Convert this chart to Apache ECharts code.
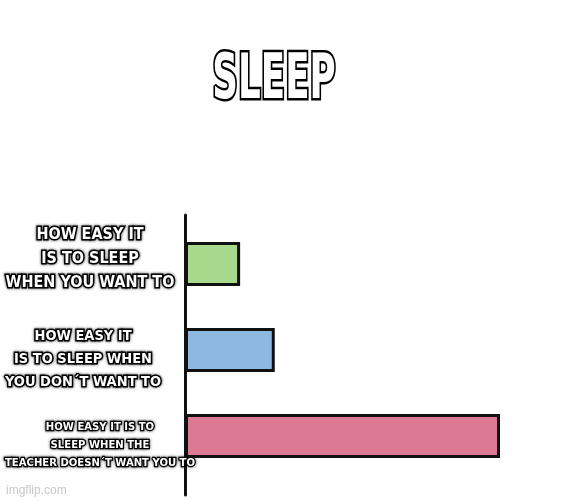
<!DOCTYPE html>
<html>
<head>
<meta charset="utf-8">
<script src="https://cdn.jsdelivr.net/npm/echarts@6/dist/echarts.min.js"></script>
<style>html,body{margin:0;padding:0;background:#fff}#c{width:564px;height:500px}</style>
</head>
<body>
<div id="c"></div>
<script>
const titleText = 'SLEEP';
const categories = [
  'HOW EASY IT\nIS TO SLEEP\nWHEN YOU WANT TO',
  'HOW EASY IT\nIS TO SLEEP WHEN\nYOU DON´T WANT TO',
  'HOW EASY IT IS TO\nSLEEP WHEN THE\nTEACHER DOESN´T WANT YOU TO'
];
const values = [17.5, 28.5, 100];
const barColors = ['#A8D88B', '#8DB9E0', '#DC7993'];

const FONT = '"DejaVu Sans Condensed", "DejaVu Sans", sans-serif';
const outline = {
  color: '#fff', fontFamily: FONT, fontWeight: 'bold',
  textBorderColor: '#000', textBorderWidth: 3,
  textShadowColor: 'rgba(0,0,0,0.7)', textShadowBlur: 3
};
// per-label style: [style name, top spacer, bottom spacer]
const labelStyles = [['a1', 0, 10], ['a2', 18, 0], ['c', 18, 0]];

const chart = echarts.init(document.getElementById('c'));
chart.setOption({
  backgroundColor: '#fff',
  animation: false,
  graphic: [
    { type: 'text', x: 274, y: 82, scaleX: 0.64, scaleY: 1,
      style: { text: titleText, fontSize: 62, fontWeight: 'bold', fontFamily: FONT,
        fill: '#fff', stroke: '#000', lineWidth: 5, align: 'center', verticalAlign: 'middle' } },
    { type: 'text', left: 6, top: 485, style: { text: 'imgflip.com', fontSize: 12,
      fontFamily: 'Liberation Sans, sans-serif', fill: '#c8c8c8' } }
  ],
  grid: [
    { left: 185, width: 315, top: 221, height: 258, outerBoundsMode: 'none', containLabel: false },
    { left: 185, width: 315, top: 215, bottom: 5, outerBoundsMode: 'none', containLabel: false }
  ],
  xAxis: [
    { gridIndex: 0, type: 'value', min: 0, max: 100, show: false },
    { gridIndex: 1, type: 'value', min: 0, max: 100, show: false }
  ],
  yAxis: [
    {
      gridIndex: 0, type: 'category', data: categories, inverse: true,
      axisLine: { show: false }, axisTick: { show: false }, splitLine: { show: false },
      axisLabel: {
        margin: 95, align: 'center', hideOverlap: false,
        formatter: function (v, i) {
          const s = labelStyles[i];
          let lines = v.split('\n').map(l => '{' + s[0] + '|' + l + '}');
          if (s[1]) lines.unshift('{sp' + s[1] + '| }');
          if (s[2]) lines.push('{sp' + s[2] + '| }');
          return lines.join('\n');
        },
        rich: {
          a1: Object.assign({}, outline, { fontSize: 16, lineHeight: 24 }),
          a2: Object.assign({}, outline, { fontSize: 14.5, lineHeight: 23, padding: [0, 14, 0, 0] }),
          c: Object.assign({}, outline, { fontSize: 11.2, lineHeight: 18, textBorderWidth: 2.5, padding: [0, 0, 0, 20] }),
          sp10: { fontSize: 1, lineHeight: 10 },
          sp18: { fontSize: 1, lineHeight: 18 }
        }
      }
    },
    {
      gridIndex: 1, type: 'value', min: 0, max: 1,
      axisLine: { show: true, lineStyle: { color: '#111', width: 3 } },
      axisTick: { show: false }, axisLabel: { show: false }, splitLine: { show: false }
    }
  ],
  series: [{
    type: 'bar', xAxisIndex: 0, yAxisIndex: 0,
    data: values.map((v, i) => ({ value: v, itemStyle: { color: barColors[i] } })),
    barWidth: 44,
    itemStyle: { borderColor: '#111', borderWidth: 3 }
  }]
});
</script>
</body>
</html>
